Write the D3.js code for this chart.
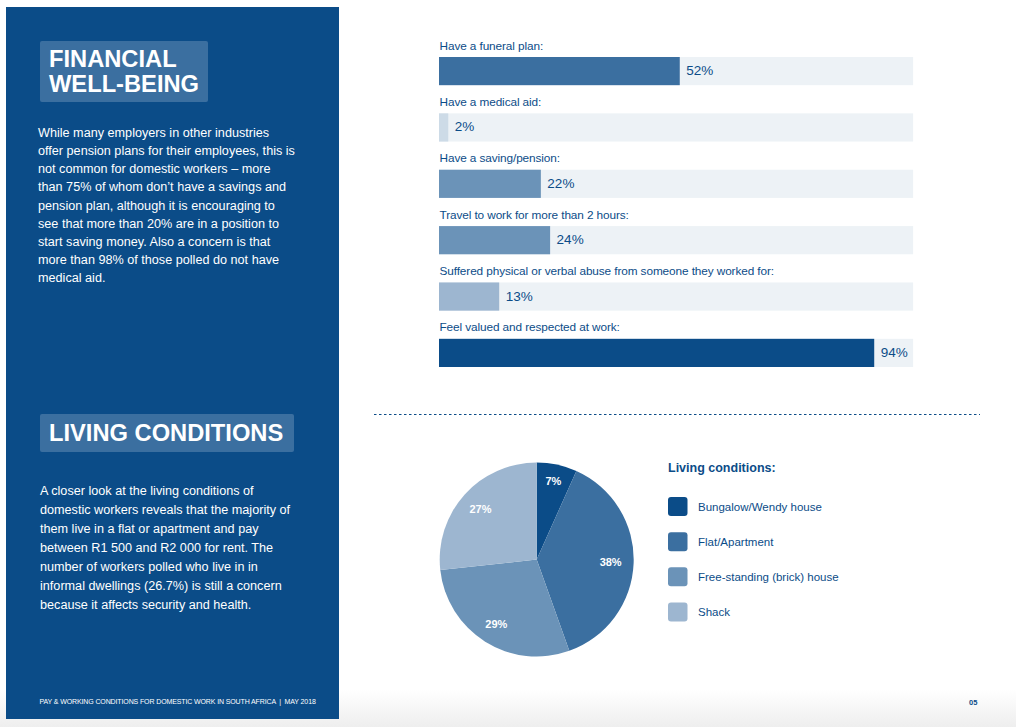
<!DOCTYPE html>
<html>
<head>
<meta charset="utf-8">
<script src="https://cdn.jsdelivr.net/npm/d3@7"></script>
<style>
  html, body { margin: 0; padding: 0; background: #fff; }
  svg { display: block; }
  text { font-family: "Liberation Sans", sans-serif; white-space: pre; }
</style>
</head>
<body>
<svg id="chart" width="1016" height="727"></svg>
<script>
var barLabels = [
    "Have a funeral plan:",
    "Have a medical aid:",
    "Have a saving/pension:",
    "Travel to work for more than 2 hours:",
    "Suffered physical or verbal abuse from someone they worked for:",
    "Feel valued and respected at work:"
];
var barValues = [52, 2, 22, 24, 13, 94];
var barColors = ["#3b6fa0", "#cddbe7", "#6b93b8", "#6b93b8", "#9db6d0", "#0b4c88"];

var pieLabels = ["Bungalow/Wendy house", "Flat/Apartment", "Free-standing (brick) house", "Shack"];
var pieValues = [6.7, 37.8, 28.7, 26.7];
var pieColors = ["#0b4c88", "#3b6fa0", "#6b93b8", "#9db6d0"];

var financialText = [
    "While many employers in other industries",
    "offer pension plans for their employees, this is",
    "not common for domestic workers \u2013 more",
    "than 75% of whom don\u2019t have a savings and",
    "pension plan, although it is encouraging to",
    "see that more than 20% are in a position to",
    "start saving money. Also a concern is that",
    "more than 98% of those polled do not have",
    "medical aid."
];
var livingText = [
    "A closer look at the living conditions of",
    "domestic workers reveals that the majority of",
    "them live in a flat or apartment and pay",
    "between R1 500 and R2 000 for rent. The",
    "number of workers polled who live in in",
    "informal dwellings (26.7%) is still a concern",
    "because it affects security and health."
];

var navy = "#0b4c88";
var svg = d3.select("#chart");

// page shading at the bottom
var grad = svg.append("defs").append("linearGradient")
    .attr("id", "pageFade").attr("x1", 0).attr("x2", 0).attr("y1", 0).attr("y2", 1);
grad.append("stop").attr("offset", "0%").attr("stop-color", "#ffffff");
grad.append("stop").attr("offset", "100%").attr("stop-color", "#eeeeee");
svg.append("rect").attr("x", 0).attr("y", 690).attr("width", 1016).attr("height", 37)
    .attr("fill", "url(#pageFade)");

// left panel
svg.append("rect").attr("x", 6).attr("y", 7).attr("width", 333).attr("height", 712).attr("fill", navy);

function titleBox(x, y, w, h, lines, baselines) {
    svg.append("rect").attr("x", x).attr("y", y).attr("width", w).attr("height", h)
        .attr("rx", 2).attr("fill", "#3b6fa0");
    lines.forEach(function (t, i) {
        svg.append("text").attr("x", x + 9).attr("y", baselines[i]).text(t)
            .attr("fill", "#fff").attr("font-size", "23.7px").attr("font-weight", "bold");
    });
}
titleBox(40, 41, 168, 61, ["FINANCIAL", "WELL-BEING"], [67, 92]);
titleBox(40, 414, 254, 38, ["LIVING CONDITIONS"], [441]);

function paragraph(lines, x, y0, step) {
    svg.append("g").selectAll("text").data(lines).join("text")
        .attr("x", x)
        .attr("y", function (d, i) { return y0 + i * step; })
        .text(function (d) { return d; })
        .attr("fill", "#fff")
        .attr("font-size", "12.65px");
}
paragraph(financialText, 38, 137, 18.15);
paragraph(livingText, 40, 495, 19);

svg.append("text").attr("x", 39.5).attr("y", 704)
    .text("PAY & WORKING CONDITIONS FOR DOMESTIC WORK IN SOUTH AFRICA  |  MAY 2018")
    .attr("fill", "#fff").attr("font-size", "7px").attr("letter-spacing", "-0.12px");
svg.append("text").attr("x", 969).attr("y", 705).text("05")
    .attr("fill", navy).attr("font-size", "7.5px").attr("font-weight", "bold");

// bars
var x = d3.scaleLinear().domain([0, 100]).range([439, 902]);
var y = d3.scaleBand().domain(barLabels).range([57, 367]).paddingInner(0.5);
var trackEnd = 102.4;

var rows = svg.append("g").selectAll("g").data(barLabels).join("g");
rows.append("rect")
    .attr("x", x(0))
    .attr("y", function (d) { return y(d); })
    .attr("width", x(trackEnd) - x(0))
    .attr("height", y.bandwidth())
    .attr("fill", "#edf2f6");
rows.append("rect")
    .attr("x", x(0))
    .attr("y", function (d) { return y(d); })
    .attr("width", function (d, i) { return x(barValues[i]) - x(0); })
    .attr("height", y.bandwidth())
    .attr("fill", function (d, i) { return barColors[i]; });
rows.append("text")
    .attr("x", x(0) + 0.5)
    .attr("y", function (d) { return y(d) - 7.4; })
    .text(function (d) { return d; })
    .attr("fill", navy)
    .attr("font-size", "11.8px")
    .attr("letter-spacing", "-0.1px");
rows.append("text")
    .attr("x", function (d, i) { return x(barValues[i]) + 6.5; })
    .attr("y", function (d) { return y(d) + y.bandwidth() / 2 + 4; })
    .text(function (d, i) { return barValues[i] + "%"; })
    .attr("fill", navy)
    .attr("font-size", "13.5px");

// divider
svg.append("line").attr("x1", 374).attr("x2", 980).attr("y1", 414.5).attr("y2", 414.5)
    .attr("stroke", navy).attr("stroke-width", 1).attr("stroke-dasharray", "2.5,2.5");

// pie
var color = d3.scaleOrdinal().domain(pieLabels).range(pieColors);
var pie = d3.pie().sort(null).value(function (d, i) { return pieValues[i]; });
var radius = 97;
var arc = d3.arc().innerRadius(0).outerRadius(radius);
// labels sit at slightly different distances from the centre in the original
var labelRadius = [80, 74, 76, 75.5];
var fmt = d3.format(".0f");

var pieG = svg.append("g").attr("transform", "translate(536.7,559.5)");
var slices = pieG.selectAll("g").data(pie(pieLabels)).join("g");
slices.append("path").attr("d", arc).attr("fill", function (d) { return color(d.data); });
slices.append("text")
    .attr("transform", function (d, i) {
        var r = labelRadius[i];
        return "translate(" + d3.arc().innerRadius(r).outerRadius(r).centroid(d) + ")";
    })
    .attr("dy", "0.35em")
    .attr("text-anchor", "middle")
    .text(function (d) { return fmt(d.value) + "%"; })
    .attr("fill", "#fff")
    .attr("font-size", "11px")
    .attr("font-weight", "bold");

// legend
svg.append("text").attr("x", 668).attr("y", 472).text("Living conditions:")
    .attr("fill", navy).attr("font-size", "12.5px").attr("font-weight", "bold");
var legendY = d3.scalePoint().domain(pieLabels).range([506.5, 612]);
var legend = svg.append("g").selectAll("g").data(pieLabels).join("g")
    .attr("transform", function (d) { return "translate(668," + legendY(d) + ")"; });
legend.append("rect").attr("x", 0).attr("y", -9.5).attr("width", 19.5).attr("height", 19)
    .attr("rx", 3).attr("fill", function (d) { return color(d); });
legend.append("text").attr("x", 30).attr("y", 4.3).text(function (d) { return d; })
    .attr("fill", navy).attr("font-size", "11.5px");
</script>
</body>
</html>
